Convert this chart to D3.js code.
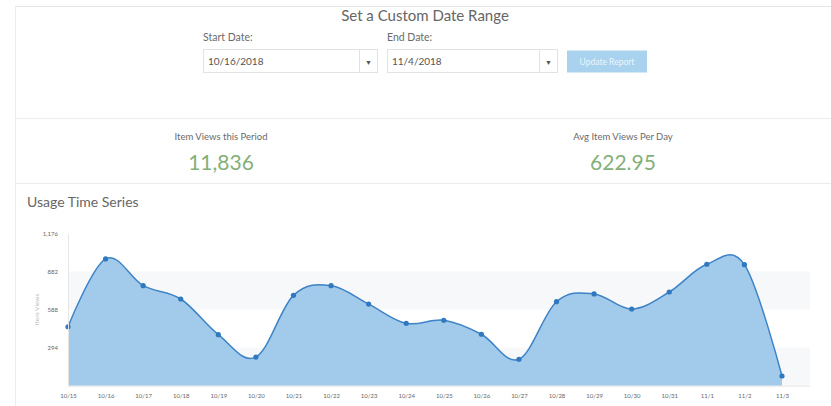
<!DOCTYPE html>
<html><head><meta charset="utf-8">
<script src="https://cdn.jsdelivr.net/npm/d3@7"></script>
<style>
html,body{margin:0;padding:0;background:#fff;overflow:hidden}
svg{display:block;font-family:Lato,"Open Sans",sans-serif}
</style></head>
<body><svg id="c" width="831" height="406"></svg>
<script>
const dates = ["10/15","10/16","10/17","10/18","10/19","10/20","10/21","10/22","10/23","10/24","10/25","10/26","10/27","10/28","10/29","10/30","10/31","11/1","11/2","11/3"];
const views = [455,978,772,669,394,221,697,772,630,481,505,397,204,648,708,592,723,937,934,75];
const yTicks = [294,588,882,1176];
const bands = [[0,294],[588,882]];
const startDate = "10/16/2018";
const endDate = "11/4/2018";
const statLabels = ["Item Views this Period","Avg Item Views Per Day"];
const statValues = ["11,836","622.95"];

const svg = d3.select("#c");
// page frame
svg.append("line").attr("x1",15).attr("x2",831).attr("y1",6.5).attr("y2",6.5).attr("stroke","#e4e4e4");
svg.append("line").attr("x1",15.5).attr("x2",15.5).attr("y1",6).attr("y2",406).attr("stroke","#ececec");
svg.append("line").attr("x1",15).attr("x2",831).attr("y1",118.5).attr("y2",118.5).attr("stroke","#ececec");
svg.append("line").attr("x1",15).attr("x2",831).attr("y1",183.5).attr("y2",183.5).attr("stroke","#ececec");

// header
svg.append("text").attr("x",425).attr("y",21).attr("text-anchor","middle").attr("font-size",15).attr("fill","#666").text("Set a Custom Date Range");
svg.append("text").attr("x",203).attr("y",41).attr("font-size",10.5).attr("fill","#6a6a6a").text("Start Date:");
svg.append("text").attr("x",387).attr("y",41).attr("font-size",10.5).attr("fill","#6a6a6a").text("End Date:");
function select(x,w,val){
  svg.append("rect").attr("x",x+0.5).attr("y",49.5).attr("width",w).attr("height",23).attr("fill","#fff").attr("stroke","#e2e2e2");
  svg.append("line").attr("x1",x+w-17.5).attr("x2",x+w-17.5).attr("y1",50).attr("y2",72).attr("stroke","#e2e2e2");
  svg.append("text").attr("x",x+5).attr("y",65).attr("font-size",10).attr("fill","#555").text(val);
  svg.append("text").attr("x",x+w-8.5).attr("y",64.5).attr("text-anchor","middle").attr("font-size",7).attr("fill","#555").text("▼");
}
select(203,174,startDate);
select(387,170,endDate);
svg.append("rect").attr("x",567).attr("y",50.5).attr("width",80).attr("height",22).attr("fill","#a9d2ee");
svg.append("text").attr("x",607).attr("y",64.5).attr("text-anchor","middle").attr("font-size",8.5).attr("fill","#eaf5fc").text("Update Report");

// stats
[221,623].forEach((cx,i)=>{
  svg.append("text").attr("x",cx).attr("y",140).attr("text-anchor","middle").attr("font-size",9.5).attr("fill","#6a6a6a").text(statLabels[i]);
  svg.append("text").attr("x",cx).attr("y",170).attr("text-anchor","middle").attr("font-size",21).attr("fill","#84b079").text(statValues[i]);
});

svg.append("text").attr("x",27).attr("y",207).attr("font-size",14).attr("fill","#666").text("Usage Time Series");

// chart
const x = d3.scalePoint().domain(dates).range([68,782]);
const y = d3.scaleLinear().domain([0,1176]).range([385.7,233.3]);
const plotRight = 810;

svg.append("g").selectAll("rect").data(bands).join("rect")
  .attr("x",68).attr("width",plotRight-68)
  .attr("y",d=>y(d[1])).attr("height",d=>y(d[0])-y(d[1]))
  .attr("fill","#f7f8f9");

const curve = d3.curveCardinal.tension(-0.05);
const area = d3.area().x((d,i)=>x(dates[i])).y0(y(0)).y1(d=>y(d)).curve(curve);
const line = d3.line().x((d,i)=>x(dates[i])).y(d=>y(d)).curve(curve);
svg.append("path").datum(views).attr("d",area).attr("fill","#a2cbeb");
svg.append("path").datum(views).attr("d",line).attr("fill","none").attr("stroke","#3d83c6").attr("stroke-width",1.5);
svg.append("g").selectAll("circle").data(views).join("circle")
  .attr("cx",(d,i)=>x(dates[i])).attr("cy",d=>y(d)).attr("r",2.6).attr("fill","#3078bf");

// axes
const xAxis = d3.axisBottom(x).tickSize(0).tickPadding(8);
const gx = svg.append("g").attr("transform",`translate(0,${y(0)})`).call(xAxis);
gx.select(".domain").remove();
gx.append("line").attr("x1",68).attr("x2",plotRight).attr("y1",0.5).attr("y2",0.5).attr("stroke","#e6e6e6");
gx.selectAll("text").attr("font-size",6).attr("fill","#666").attr("font-family","Lato,sans-serif");

const yAxis = d3.axisLeft(y).tickValues(yTicks).tickSize(0).tickPadding(10).tickFormat(d3.format(","));
const gy = svg.append("g").attr("transform","translate(68,0)").call(yAxis);
gy.select(".domain").attr("stroke","#e6e6e6");
gy.selectAll("text").attr("font-size",6).attr("fill","#666").attr("font-family","Lato,sans-serif");

svg.append("text").attr("transform",`translate(39,${(y(0)+y(1176))/2}) rotate(-90)`)
  .attr("text-anchor","middle").attr("font-size",6.5).attr("fill","#bbb").text("Item Views");
</script></body></html>
